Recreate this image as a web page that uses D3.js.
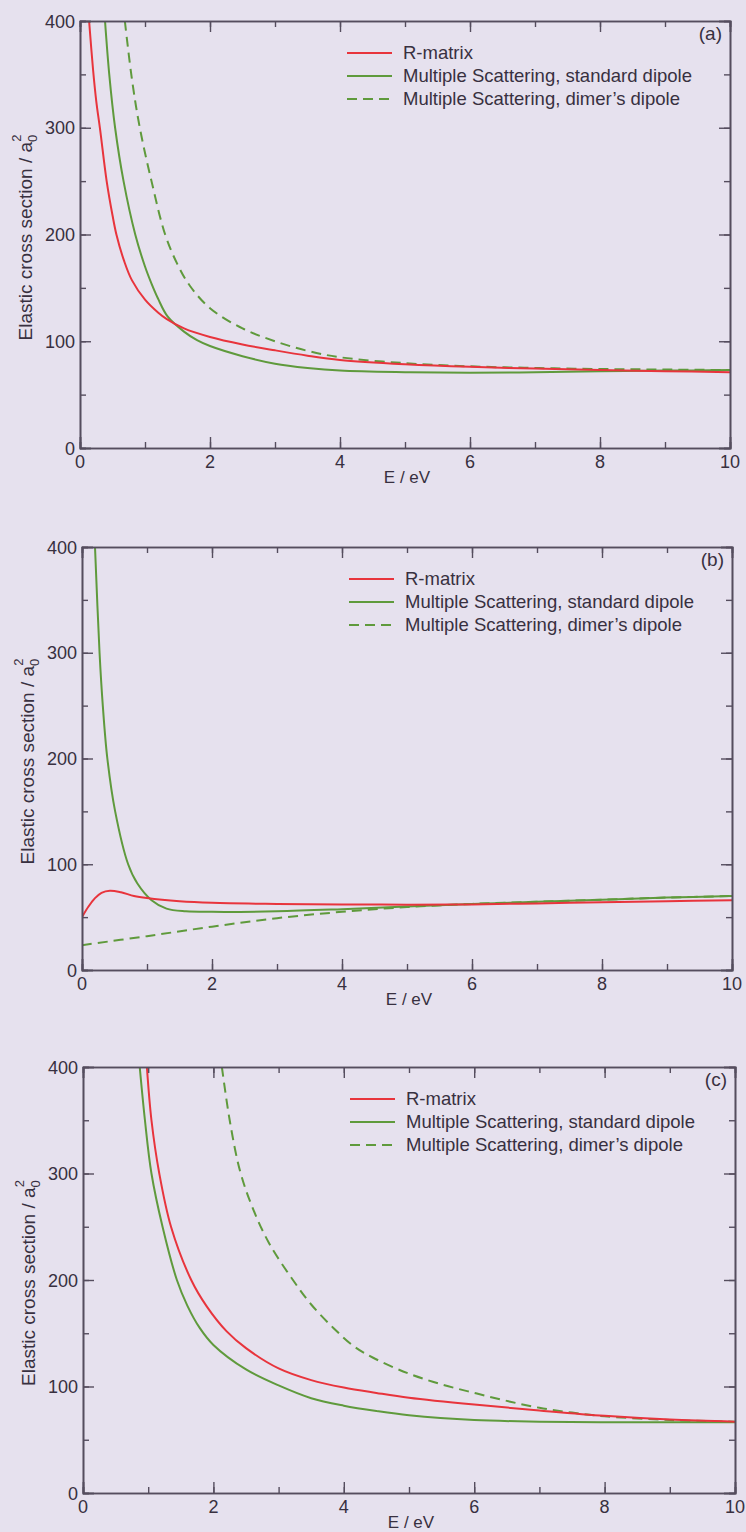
<!DOCTYPE html>
<html>
<head>
<meta charset="utf-8">
<script src="https://cdn.jsdelivr.net/npm/d3@7"></script>
<style>
  html, body { margin: 0; padding: 0; background: #e6e1ee; }
  svg { display: block; }
  text { font-family: "Liberation Sans", Arial, Helvetica, sans-serif; fill: #383040; }
</style>
</head>
<body>
<svg id="chart" width="746" height="1532"></svg>
<script>
// ---------- Data ----------
const panelLabels = ["(a)", "(b)", "(c)"];
const seriesNames = ["R-matrix", "Multiple Scattering, standard dipole", "Multiple Scattering, dimer\u2019s dipole"];
const xTicks = [0, 2, 4, 6, 8, 10];
const yTicks = [0, 100, 200, 300, 400];

// Panel (a)
const aRmatrixE = [0.14, 0.2, 0.25, 0.31, 0.41, 0.5, 0.56, 0.68, 0.8, 1.0, 1.2, 1.33, 1.6, 2, 2.5, 3, 3.5, 4, 5, 6, 7, 8, 9, 10];
const aRmatrixS = [400, 355, 325, 298, 250, 218, 200, 175, 157, 139, 127, 121, 112, 104, 97, 91.5, 86.5, 82.5, 78.5, 76, 74.5, 73, 72, 71];
const aStdE = [0.385, 0.45, 0.54, 0.67, 0.85, 1.0, 1.1, 1.2, 1.35, 1.6, 1.8, 2, 2.5, 3, 3.5, 4, 5, 6, 7, 8, 9, 10];
const aStdS = [400, 350, 300, 250, 200, 170, 154, 140, 123, 109, 101, 95.5, 86, 79, 75, 72.5, 71, 70.5, 71, 72, 72.5, 73];
const aDimE = [0.69, 0.8, 0.92, 1.1, 1.31, 1.5, 1.69, 2, 2.5, 3, 3.5, 4, 5, 6, 7, 8, 9, 10];
const aDimS = [400, 345, 300, 250, 200, 172, 152, 131, 112, 100, 91, 85, 79.5, 76.5, 75, 74, 73.5, 73];

// Panel (b)
const bRmatrixE = [0, 0.1, 0.2, 0.3, 0.43, 0.6, 0.8, 1.0, 1.5, 2, 3, 4, 5, 6, 7, 8, 9, 10];
const bRmatrixS = [50, 60, 68, 73, 75, 73.5, 70, 68, 65, 63.5, 62.5, 62, 61.8, 62, 63, 64, 65, 66];
const bStdE = [0.2, 0.27, 0.32, 0.39, 0.51, 0.71, 0.85, 1.07, 1.3, 1.6, 2, 3, 4, 5, 6, 7, 8, 9, 10];
const bStdS = [400, 300, 250, 200, 150, 100, 82, 66, 58, 55.5, 55, 55.5, 57.5, 60, 62.5, 64.5, 66.5, 68.5, 70];
const bDimE = [0, 1, 2, 3, 4, 5, 6, 7, 8, 9, 10];
const bDimS = [23.5, 32, 41, 49, 55, 59.5, 62.5, 64.5, 66.5, 68.5, 70];

// Panel (c)
const cRmatrixE = [0.98, 1.05, 1.17, 1.35, 1.66, 1.9, 2.2, 2.5, 3, 3.5, 4, 4.5, 5, 6, 7, 8, 9, 10];
const cRmatrixS = [400, 350, 300, 250, 200, 175, 152, 136, 117, 106, 99, 94, 89.5, 83, 77.5, 72.5, 69, 67];
const cStdE = [0.87, 0.95, 1.05, 1.22, 1.44, 1.6, 1.79, 2, 2.5, 3, 3.5, 4, 4.5, 5, 6, 7, 8, 9, 10];
const cStdS = [400, 350, 300, 250, 200, 176, 155, 139, 116, 101, 89, 82, 77, 73, 68.5, 67, 66.5, 66.5, 66.5];
const cDimE = [2.13, 2.25, 2.41, 2.6, 2.85, 3.22, 3.5, 3.84, 4.15, 4.45, 5, 5.5, 6, 6.5, 7, 7.5, 8, 9, 10];
const cDimS = [400, 350, 302, 268, 235, 200, 177, 155, 138, 127, 112, 102, 94, 86.5, 80, 75.5, 72, 68.5, 67];

// ---------- Build ----------
const zip = (xs, ys) => xs.map((x, i) => ({x, y: ys[i]}));
const panels = [
  { label: panelLabels[0], box: {l: 80, t: 21, r: 730, b: 448},
    series: [zip(aRmatrixE, aRmatrixS), zip(aStdE, aStdS), zip(aDimE, aDimS)] },
  { label: panelLabels[1], box: {l: 82, t: 547, r: 732, b: 970},
    series: [zip(bRmatrixE, bRmatrixS), zip(bStdE, bStdS), zip(bDimE, bDimS)] },
  { label: panelLabels[2], box: {l: 83, t: 1067, r: 735, b: 1493},
    series: [zip(cRmatrixE, cRmatrixS), zip(cStdE, cStdS), zip(cDimE, cDimS)] }
];
const styles = [
  {color: "#e8343c", dash: null},
  {color: "#5f9a3c", dash: null},
  {color: "#5f9a3c", dash: "10,6"}
];
const axisColor = "#554d5e";

const svg = d3.select("#chart");
svg.append("rect").attr("width", 746).attr("height", 1532).attr("fill", "#e6e1ee");

panels.forEach((p, pi) => {
  const {l, t, r, b} = p.box;
  const x = d3.scaleLinear().domain([0, 10]).range([l, r]);
  const y = d3.scaleLinear().domain([0, 400]).range([b, t]);
  const g = svg.append("g");

  const clipId = "clip" + pi;
  svg.append("clipPath").attr("id", clipId)
    .append("rect").attr("x", l).attr("y", t).attr("width", r - l).attr("height", b - t);

  // curves
  const line = d3.line().x(d => x(d.x)).y(d => y(d.y)).curve(d3.curveCatmullRom.alpha(0.5));
  const cg = g.append("g").attr("clip-path", `url(#${clipId})`);
  [2, 1, 0].forEach(si => {
    cg.append("path").datum(p.series[si])
      .attr("d", line)
      .attr("fill", "none")
      .attr("stroke", styles[si].color)
      .attr("stroke-width", 2)
      .attr("stroke-dasharray", styles[si].dash);
  });

  // axes (ticks inward on all sides)
  const minor = d3.range(0, 10.01, 1);
  const yMinor = d3.range(0, 400.1, 50);
  const axB = d3.axisBottom(x).tickValues(minor).tickSize(-6).tickFormat("");
  const axT = d3.axisTop(x).tickValues(minor).tickSize(-6).tickFormat("");
  const axL = d3.axisLeft(y).tickValues(yMinor).tickSize(-6).tickFormat("");
  const axR = d3.axisRight(y).tickValues(yMinor).tickSize(-6).tickFormat("");
  const axBM = d3.axisBottom(x).tickValues(xTicks).tickSize(-11).tickFormat("");
  const axTM = d3.axisTop(x).tickValues(xTicks).tickSize(-11).tickFormat("");
  const axLM = d3.axisLeft(y).tickValues(yTicks).tickSize(-11).tickFormat("");
  const axRM = d3.axisRight(y).tickValues(yTicks).tickSize(-11).tickFormat("");
  [[axB, `translate(0,${b})`], [axBM, `translate(0,${b})`],
   [axT, `translate(0,${t})`], [axTM, `translate(0,${t})`],
   [axL, `translate(${l},0)`], [axLM, `translate(${l},0)`],
   [axR, `translate(${r},0)`], [axRM, `translate(${r},0)`]].forEach(([ax, tr]) => {
    const a = g.append("g").attr("transform", tr).call(ax);
    a.select(".domain").attr("stroke", axisColor).attr("stroke-width", 1.6);
    a.selectAll(".tick line").attr("stroke", axisColor).attr("stroke-width", 1.4);
  });

  // tick labels
  g.selectAll(".xl").data(xTicks).enter().append("text")
    .attr("x", d => x(d)).attr("y", b + 20)
    .attr("text-anchor", "middle").attr("font-size", 18).text(d => d);
  g.selectAll(".yl").data(yTicks).enter().append("text")
    .attr("x", l - 5).attr("y", d => y(d) + 6.5)
    .attr("text-anchor", "end").attr("font-size", 18).text(d => d);

  // axis titles
  g.append("text").attr("x", (l + r) / 2 + 2).attr("y", b + 35)
    .attr("text-anchor", "middle").attr("font-size", 17).text("E / eV");
  const yt = g.append("text")
    .attr("transform", `translate(${l - 48},${(t + b) / 2 + 3}) rotate(-90)`)
    .attr("text-anchor", "middle").attr("font-size", 19);
  yt.append("tspan").text("Elastic cross section / a");
  yt.append("tspan").attr("font-size", 13).attr("dy", 5).text("0");
  yt.append("tspan").attr("font-size", 13).attr("dy", -16).attr("dx", -7).text("2");

  // panel label
  g.append("text").attr("x", r - 8).attr("y", t + 19)
    .attr("text-anchor", "end").attr("font-size", 19).text(p.label);

  // legend
  seriesNames.forEach((name, si) => {
    const ly = t + 32 + si * 23;
    g.append("line").attr("x1", l + 267).attr("x2", l + 312)
      .attr("y1", ly).attr("y2", ly)
      .attr("stroke", styles[si].color).attr("stroke-width", 2)
      .attr("stroke-dasharray", styles[si].dash);
    g.append("text").attr("x", l + 323).attr("y", ly + 6)
      .attr("font-size", 18.5).text(name);
  });
});
</script>
</body>
</html>
